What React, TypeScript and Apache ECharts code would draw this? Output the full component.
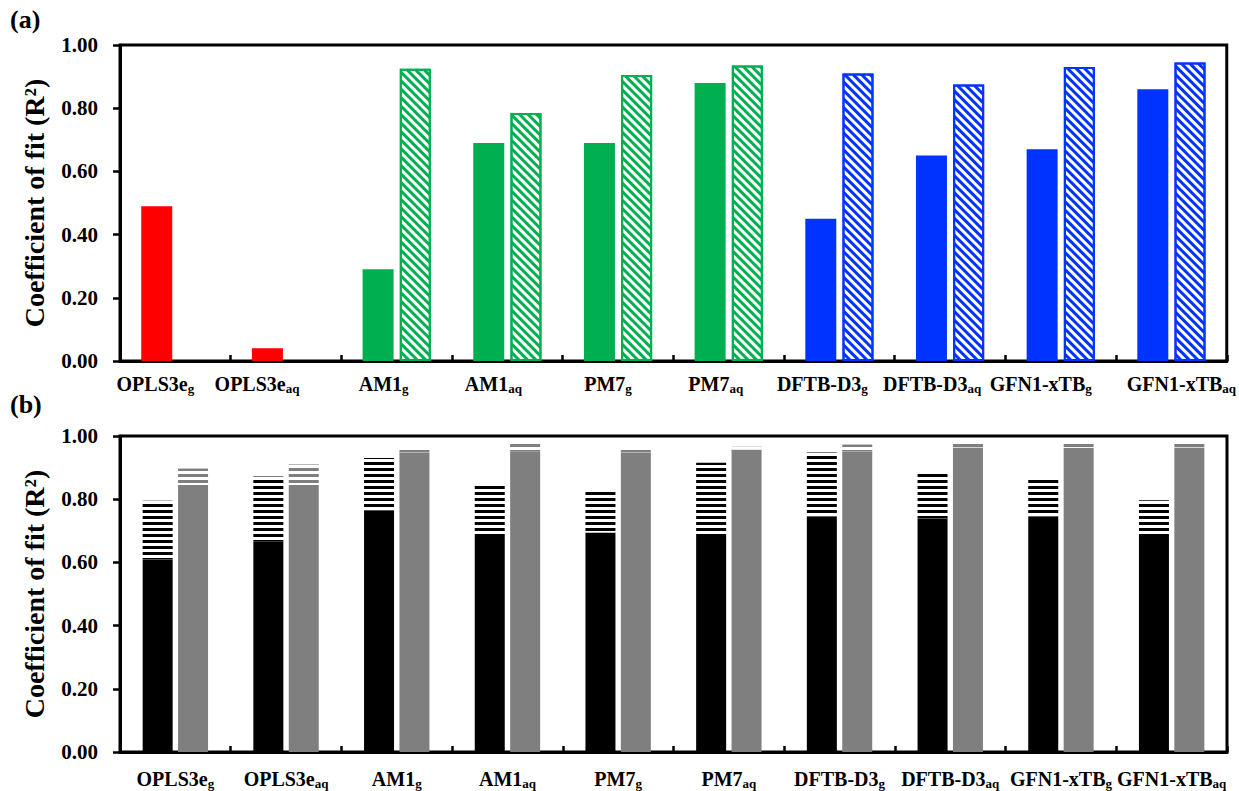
import React, { useEffect, useRef } from 'react';
import * as echarts from 'echarts';

// ---------- data ----------
const categories = [
  'OPLS3e_g', 'OPLS3e_aq', 'AM1_g', 'AM1_aq', 'PM7_g',
  'PM7_aq', 'DFTB-D3_g', 'DFTB-D3_aq', 'GFN1-xTB_g', 'GFN1-xTB_aq',
];
// panel (a): solid bars and hatched bars
const solidA = [0.49, 0.04, 0.29, 0.69, 0.69, 0.88, 0.45, 0.65, 0.67, 0.86];
const hatchA = [null, null, 0.925, 0.785, 0.905, 0.935, 0.91, 0.875, 0.93, 0.945];
// panel (b): black (solid part + striped part top) and gray (solid part + striped part top)
const blackBase = [0.61, 0.665, 0.765, 0.68, 0.695, 0.68, 0.745, 0.74, 0.745, 0.69];
const blackTop = [0.795, 0.872, 0.93, 0.848, 0.83, 0.915, 0.948, 0.883, 0.862, 0.797];
const grayBase = [0.845, 0.845, 0.948, 0.95, 0.948, 0.957, 0.952, 0.964, 0.963, 0.964];
const grayTop = [0.897, 0.91, 0.964, 0.975, 0.962, 0.966, 0.973, 0.977, 0.975, 0.976];

const yMin = 0;
const yMax = 1;
const yStep = 0.2;

// ---------- styles ----------
const FONT = "'Liberation Serif', 'Times New Roman', serif";
const RED = '#FF0000';
const GREEN = '#00B050';
const BLUE = '#0033FF';
const GRAY = '#7F7F7F';
const methodColor: Record<string, string> = {
  OPLS3e: RED, AM1: GREEN, PM7: GREEN, 'DFTB-D3': BLUE, 'GFN1-xTB': BLUE,
};
// horizontal nudge (px) of the panel (a) category labels, as placed in the original figure
const labelNudgeA = [-20, -29, -13, -14, -10, -13, -17, -18, -20, 10];
const labelNudgeB = [0, 0, 0, 0, 0, 0, 0, 0, 0, 0];

const methodOf = (c: string) => c.slice(0, c.lastIndexOf('_'));
const colorOf = (i: number) => methodColor[methodOf(categories[i])];

const diagDecal = (color: string) => ({
  symbol: 'rect',
  symbolSize: 1,
  color,
  dashArrayX: [1, 0],
  dashArrayY: [2.1, 2.1],
  rotation: Math.PI / 4,
});
const horizDecal = (color: string) => ({
  symbol: 'rect',
  symbolSize: 1,
  color,
  dashArrayX: [1, 0],
  dashArrayY: [2.7, 2.6],
  rotation: 0,
});

const labelRich = (nudge: number[]) => {
  const base = { fontFamily: FONT, fontWeight: 'bold', fontSize: 20, color: '#000' };
  const rich: Record<string, any> = {
    s: { fontFamily: FONT, fontWeight: 'bold', fontSize: 13, color: '#000', padding: [9, 0, 0, 0] },
    sr: { fontFamily: FONT, fontWeight: 'bold', fontSize: 13, color: '#000', padding: [9, 0, 0, 0] },
  };
  nudge.forEach((d, i) => {
    rich['m' + i] = { ...base, padding: [0, 0, 0, d > 0 ? 2 * d : 0] };
    rich['s' + i] = { ...rich.s, padding: [9, d < 0 ? -2 * d : 0, 0, 0] };
  });
  return rich;
};

const xAxisCommon = (gridIndex: number, margin: number, nudge: number[]) => ({
  type: 'category',
  gridIndex,
  data: categories,
  boundaryGap: true,
  axisLine: { show: true, lineStyle: { color: '#000', width: 3 } },
  axisTick: { show: true, inside: true, length: 6, interval: 0, lineStyle: { color: '#000', width: 2.5 } },
  axisLabel: {
    interval: 0,
    margin,
    color: '#000',
    formatter: (v: string, idx: number) => {
      const k = v.lastIndexOf('_');
      return `{m${idx}|${v.slice(0, k)}}{s${idx}|${v.slice(k + 1)}}`;
    },
    rich: labelRich(nudge),
  },
  splitLine: { show: false },
});

const yAxisCommon = (gridIndex: number) => ({
  type: 'value',
  gridIndex,
  min: yMin,
  max: yMax,
  interval: yStep,
  name: 'Coefficient of fit (R²)',
  nameLocation: 'middle',
  nameRotate: 90,
  nameGap: 72,
  nameTextStyle: { fontFamily: FONT, fontWeight: 'bold', fontSize: 28, color: '#000' },
  axisLine: { show: true, lineStyle: { color: '#000', width: 3 } },
  axisTick: { show: true, inside: false, length: 7, lineStyle: { color: '#000', width: 2.5 } },
  axisLabel: {
    margin: 22,
    fontFamily: FONT,
    fontWeight: 'bold',
    fontSize: 21,
    color: '#000',
    formatter: (v: number) => v.toFixed(2),
  },
  splitLine: { show: false },
});

export default function App() {
  const ref = useRef<HTMLDivElement>(null);
  useEffect(() => {
    if (!ref.current) return;
    const chart = echarts.init(ref.current, undefined, { renderer: 'svg' });

    const hatchSeries = (color: string) => ({
      type: 'bar',
      xAxisIndex: 0,
      yAxisIndex: 0,
      stack: 'hatch',
      barWidth: 31,
      barGap: '20%',
      itemStyle: { color: '#fff', borderColor: color, borderWidth: 2, decal: diagDecal(color) },
      data: hatchA.map((v, i) => (v != null && colorOf(i) === color ? v : '-')),
    });

    const option = {
      animation: false,
      backgroundColor: '#fff',
      grid: [
        { left: 120, top: 45, width: 1108, height: 316, show: true, borderColor: '#000', borderWidth: 3, backgroundColor: 'transparent' },
        { left: 120, top: 436, width: 1107, height: 316, show: true, borderColor: '#000', borderWidth: 3, backgroundColor: 'transparent' },
      ],
      xAxis: [xAxisCommon(0, 12, labelNudgeA), xAxisCommon(1, 16, labelNudgeB)],
      yAxis: [yAxisCommon(0), yAxisCommon(1)],
      graphic: [
        { type: 'text', left: 10, top: 6, style: { text: '(a)', fontFamily: FONT, fontWeight: 'bold', fontSize: 26, fill: '#000' } },
        { type: 'text', left: 10, top: 391, style: { text: '(b)', fontFamily: FONT, fontWeight: 'bold', fontSize: 26, fill: '#000' } },
      ],
      series: [
        {
          type: 'bar',
          xAxisIndex: 0,
          yAxisIndex: 0,
          stack: 'solid',
          barWidth: 31,
          barGap: '20%',
          data: solidA.map((v, i) => ({ value: v, itemStyle: { color: colorOf(i) } })),
        },
        hatchSeries(GREEN),
        hatchSeries(BLUE),
        {
          type: 'bar',
          xAxisIndex: 1,
          yAxisIndex: 1,
          stack: 'k',
          barWidth: 30,
          barGap: '18%',
          itemStyle: { color: '#000' },
          data: blackBase,
        },
        {
          type: 'bar',
          xAxisIndex: 1,
          yAxisIndex: 1,
          stack: 'k',
          barWidth: 30,
          barGap: '18%',
          itemStyle: { color: '#fff', decal: horizDecal('#000') },
          data: blackTop.map((t, i) => +(t - blackBase[i]).toFixed(3)),
        },
        {
          type: 'bar',
          xAxisIndex: 1,
          yAxisIndex: 1,
          stack: 'g',
          barWidth: 30,
          barGap: '18%',
          itemStyle: { color: GRAY },
          data: grayBase,
        },
        {
          type: 'bar',
          xAxisIndex: 1,
          yAxisIndex: 1,
          stack: 'g',
          barWidth: 30,
          barGap: '18%',
          itemStyle: { color: '#fff', decal: horizDecal(GRAY) },
          data: grayTop.map((t, i) => +(t - grayBase[i]).toFixed(3)),
        },
      ],
    };
    chart.setOption(option as any);
    return () => chart.dispose();
  }, []);
  return (
    <div
      ref={ref}
      style={{ position: 'absolute', left: 0, top: 0, width: 1239, height: 791, background: '#fff' }}
    />
  );
}
